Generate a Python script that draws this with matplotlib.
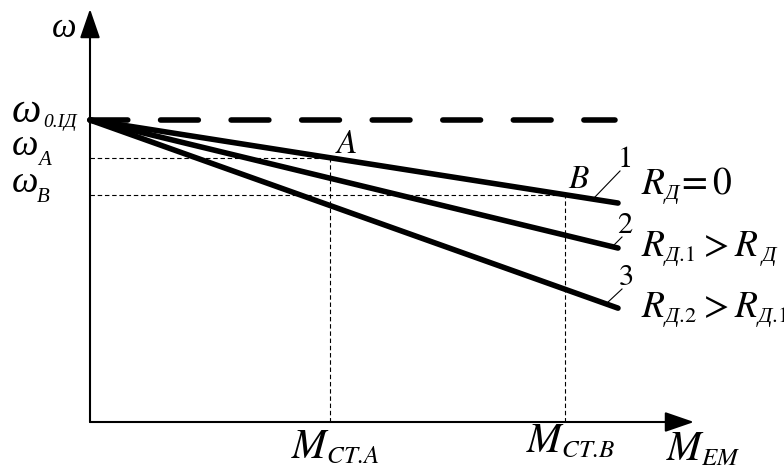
import matplotlib
matplotlib.use("Agg")
import matplotlib.pyplot as plt
import matplotlib._mathtext as mathtext_internal
import numpy as np

plt.rcParams["mathtext.fontset"] = "custom"
plt.rcParams["mathtext.rm"] = "STIXGeneral"
plt.rcParams["mathtext.it"] = "STIXGeneral:italic"
plt.rcParams["mathtext.sf"] = "Liberation Serif:italic"
plt.rcParams["font.family"] = ["STIXGeneral", "DejaVu Sans"]
mathtext_internal.SHRINK_FACTOR = 0.6  # smaller subscripts, like the original

# characteristic data (relative units: omega0 = 1, M at line end = 1)
m_line = [0.0, 1.0]
omega0 = 1.0
omega_end = [0.725, 0.576, 0.377]
curve_ids = ["1", "2", "3"]
curve_labels = [r"$R_{\mathsf{Д}}\!= 0$",
                r"$R_{\mathsf{Д}.\!1} > R_{\;\mathsf{Д}}$",
                r"$R_{\mathsf{Д}.\!2} > R_{\mathsf{Д}.\!1}$"]
m_ideal_end = 0.994
m_A, m_B = 0.4545, 0.90
omega_A, omega_B = 0.875, 0.7525

W, H = 784, 468
X0, Y0, SX, SY = 90, 422, 528, 302


def px(x, y):
    return (x - X0) / SX, (Y0 - y) / SY


fig = plt.figure(figsize=(W / 100, H / 100), dpi=100)
ax = fig.add_axes([0, 0, 1, 1])
ax.set_xlim(px(0, 0)[0], px(W, 0)[0])
ax.set_ylim(px(0, H)[1], px(0, 0)[1])
ax.axis("off")

# axes with arrows
arr = dict(arrowstyle="-|>,head_length=1.8,head_width=0.62", color="k", lw=1.5,
           shrinkA=0, shrinkB=0, mutation_scale=10)
ax.annotate("", xy=px(694, Y0), xytext=(0, 0), arrowprops=arr)
ax.annotate("", xy=px(X0, 9), xytext=(0, 0), arrowprops=arr)

# ideal no-load speed (dashed)
ax.plot([0, m_ideal_end], [omega0, omega0], color="k", lw=4, ls=(0, (6.8, 5.9)),
        dash_capstyle="round", solid_capstyle="round")

# characteristics
for w_end in omega_end:
    ax.plot(m_line, [omega0, w_end], color="k", lw=4, solid_capstyle="round")

# working points helper lines
thin = dict(color="k", lw=0.8, ls=(0, (4, 2.5)))
ax.plot([0, m_A], [omega_A, omega_A], **thin)
ax.plot([m_A, m_A], [0, omega_A], **thin)
ax.plot([0, m_B], [omega_B, omega_B], **thin)
ax.plot([m_B, m_B], [0, omega_B], **thin)

# omega labels: main letter + separate small subscript
ital = dict(family="Liberation Serif", fontstyle="italic", va="baseline", ha="left")
ax.text(*px(52, 37), "ω", fontsize=25, **ital)
omega_labels = [("0.IД", 122, 127, 43, 30, 14), ("A", 155, 165, 38, 27, 15), ("B", 192, 202, 37, 27, 15)]
for sub, yb, ysb, xs, fsm, fss in omega_labels:
    ax.text(*px(12, yb), "ω", fontsize=fsm, **ital)
    ax.text(*px(xs, ysb), sub, fontsize=fss, **ital)

ax.text(*px(346, 153), r"$A$", fontsize=24, ha="center", va="baseline")
ax.text(*px(579, 188), r"$B$", fontsize=24, ha="center", va="baseline")

# curve numbers with leaders
num_pos = [(625, 167), (625, 233), (626, 285)]
leaders = [((620, 171), (594, 198)), ((622, 237), (613, 246)), ((622, 289), (607, 303))]
label_base = [195, 257, 318]
for cid, lab, (nx, ny), (a, b), yb in zip(curve_ids, curve_labels, num_pos, leaders, label_base):
    ax.text(*px(nx, ny), cid, fontsize=22, ha="center", va="baseline")
    ax.plot(*zip(px(*a), px(*b)), color="k", lw=0.8)
    ax.text(*px(641, yb), lab, fontsize=27, ha="left", va="baseline")

ax.text(*px(291, 458), r"$M_{CT.\!A}$", fontsize=30, ha="left", va="baseline")
ax.text(*px(526, 452), r"$M_{CT.\!B}$", fontsize=30, ha="left", va="baseline")
ax.text(*px(666, 460), r"$M_{EM}$", fontsize=30, ha="left", va="baseline")

fig.savefig("out.png", dpi=100)
